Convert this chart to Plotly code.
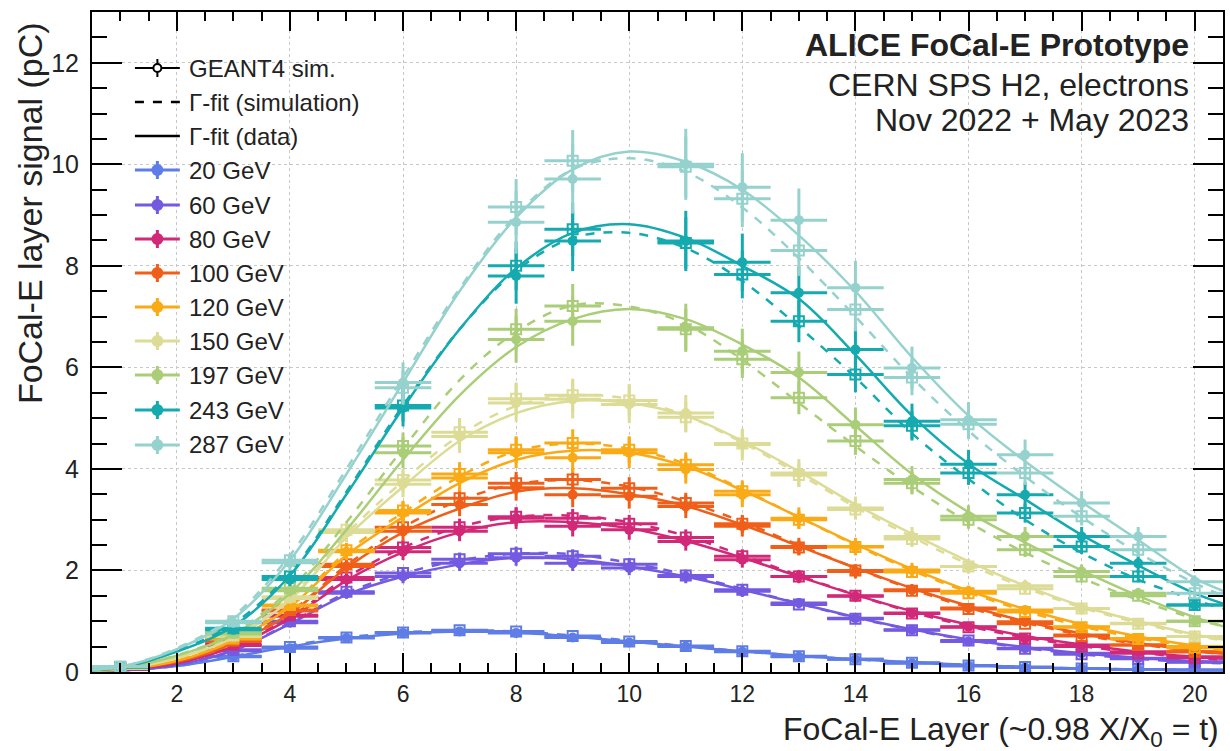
import plotly.graph_objects as go

# ---------------- data ----------------
energies = ["20 GeV", "60 GeV", "80 GeV", "100 GeV", "120 GeV", "150 GeV", "197 GeV", "243 GeV", "287 GeV"]
colors = ["#5f7de6", "#735ae1", "#d22878", "#f05f19", "#faaa14", "#dcdc96", "#aacd78", "#14aaaf", "#96d2cd"]

layers_low = [1, 3, 4, 5, 6, 7, 8, 9, 10, 11, 12, 13, 14, 15, 16, 17, 18, 19, 20]
layers_high = [1, 3, 4, 6, 8, 9, 11, 12, 13, 14, 15, 16, 17, 18, 19, 20]

fit_x = [0.5, 1, 2, 3, 4, 5, 6, 7, 8, 9, 10, 11, 12, 13, 14, 15, 16, 17, 18, 19, 20, 20.5]

data_20 = [0.05, 0.30, 0.47, 0.67, 0.77, 0.80, 0.77, 0.68, 0.58, 0.50, 0.40, 0.30, 0.25, 0.17, 0.12, 0.09, 0.07, 0.05, 0.04]
sim_20 = [0.05, 0.31, 0.49, 0.68, 0.78, 0.82, 0.80, 0.71, 0.60, 0.51, 0.41, 0.31, 0.25, 0.18, 0.13, 0.10, 0.07, 0.05, 0.04]
data_60 = [0.05, 0.42, 0.97, 1.55, 1.88, 2.14, 2.25, 2.14, 2.05, 1.88, 1.59, 1.36, 1.06, 0.83, 0.60, 0.47, 0.37, 0.27, 0.20]
sim_60 = [0.05, 0.44, 1.00, 1.58, 1.95, 2.22, 2.33, 2.28, 2.12, 1.90, 1.62, 1.33, 1.05, 0.82, 0.62, 0.46, 0.35, 0.26, 0.19]
data_80 = [0.06, 0.52, 1.10, 1.82, 2.37, 2.77, 3.03, 2.87, 2.80, 2.57, 2.21, 1.88, 1.49, 1.16, 0.89, 0.66, 0.53, 0.40, 0.30]
sim_80 = [0.06, 0.54, 1.12, 1.86, 2.45, 2.85, 3.06, 3.03, 2.92, 2.65, 2.28, 1.88, 1.50, 1.15, 0.88, 0.66, 0.50, 0.37, 0.28]
data_100 = [0.07, 0.60, 1.20, 2.08, 2.77, 3.30, 3.63, 3.49, 3.46, 3.26, 2.87, 2.47, 1.98, 1.62, 1.26, 0.99, 0.73, 0.53, 0.40]
sim_100 = [0.07, 0.62, 1.22, 2.12, 2.85, 3.42, 3.72, 3.79, 3.62, 3.33, 2.92, 2.45, 2.00, 1.60, 1.24, 0.95, 0.71, 0.53, 0.40]
data_120 = [0.07, 0.65, 1.30, 2.37, 3.13, 3.82, 4.32, 4.22, 4.32, 3.99, 3.49, 3.03, 2.47, 2.01, 1.59, 1.22, 0.89, 0.66, 0.50]
sim_120 = [0.07, 0.66, 1.32, 2.40, 3.18, 3.90, 4.38, 4.51, 4.38, 4.08, 3.56, 3.00, 2.46, 1.97, 1.55, 1.18, 0.88, 0.65, 0.48]
data_150 = [0.08, 0.70, 1.45, 2.75, 3.70, 4.64, 5.30, 5.37, 5.27, 5.10, 4.48, 3.92, 3.23, 2.67, 2.08, 1.70, 1.25, 0.96, 0.70]
sim_150 = [0.08, 0.72, 1.48, 2.80, 3.78, 4.72, 5.38, 5.45, 5.35, 5.02, 4.50, 3.88, 3.20, 2.62, 2.08, 1.64, 1.25, 0.95, 0.70]
data_197 = [0.09, 0.75, 1.60, 4.32, 6.55, 6.91, 6.78, 6.32, 5.90, 4.87, 3.79, 3.07, 2.67, 1.98, 1.55, 1.00]
sim_197 = [0.09, 0.78, 1.65, 4.45, 6.75, 7.21, 6.75, 6.16, 5.40, 4.55, 3.72, 3.00, 2.41, 1.88, 1.50, 1.00]
data_243 = [0.10, 0.83, 1.82, 5.20, 7.80, 8.49, 8.49, 8.07, 7.47, 6.35, 4.94, 4.09, 3.49, 2.67, 2.14, 1.32]
sim_243 = [0.10, 0.86, 1.88, 5.25, 8.00, 8.72, 8.45, 7.83, 6.91, 5.86, 4.85, 3.92, 3.13, 2.47, 1.88, 1.32]
data_287 = [0.11, 0.97, 2.15, 5.70, 8.86, 9.71, 10.00, 9.55, 8.90, 7.57, 5.99, 4.97, 4.28, 3.33, 2.67, 1.78]
sim_287 = [0.11, 1.00, 2.20, 5.60, 9.16, 10.07, 9.95, 9.32, 8.30, 7.14, 5.80, 4.88, 3.92, 3.07, 2.41, 1.55]

fitd_20 = [0.01, 0.03, 0.12, 0.30, 0.50, 0.66, 0.76, 0.80, 0.78, 0.70, 0.60, 0.50, 0.41, 0.32, 0.25, 0.19, 0.14, 0.10, 0.07, 0.05, 0.04, 0.03]
fits_20 = [0.01, 0.03, 0.12, 0.31, 0.52, 0.68, 0.78, 0.82, 0.80, 0.72, 0.62, 0.51, 0.41, 0.32, 0.25, 0.19, 0.14, 0.10, 0.07, 0.05, 0.04, 0.03]
fitd_60 = [0.01, 0.03, 0.14, 0.42, 0.95, 1.52, 1.88, 2.12, 2.25, 2.22, 2.08, 1.88, 1.62, 1.35, 1.08, 0.84, 0.64, 0.49, 0.37, 0.28, 0.21, 0.18]
fits_60 = [0.01, 0.03, 0.14, 0.43, 0.97, 1.56, 1.94, 2.20, 2.33, 2.32, 2.15, 1.92, 1.64, 1.35, 1.07, 0.83, 0.63, 0.47, 0.35, 0.26, 0.19, 0.17]
fitd_80 = [0.02, 0.04, 0.17, 0.50, 1.05, 1.80, 2.36, 2.75, 2.95, 2.95, 2.83, 2.58, 2.25, 1.88, 1.52, 1.20, 0.93, 0.71, 0.54, 0.40, 0.30, 0.26]
fits_80 = [0.02, 0.04, 0.18, 0.52, 1.08, 1.86, 2.45, 2.86, 3.06, 3.08, 2.95, 2.68, 2.30, 1.90, 1.52, 1.18, 0.90, 0.68, 0.51, 0.38, 0.28, 0.24]
fitd_100 = [0.02, 0.05, 0.20, 0.56, 1.15, 2.05, 2.75, 3.22, 3.55, 3.62, 3.50, 3.27, 2.90, 2.48, 2.05, 1.65, 1.30, 1.00, 0.76, 0.57, 0.42, 0.36]
fits_100 = [0.02, 0.05, 0.21, 0.58, 1.18, 2.10, 2.85, 3.38, 3.70, 3.78, 3.65, 3.36, 2.96, 2.50, 2.05, 1.63, 1.27, 0.97, 0.73, 0.55, 0.41, 0.35]
fitd_120 = [0.03, 0.05, 0.22, 0.62, 1.28, 2.30, 3.05, 3.72, 4.18, 4.36, 4.32, 4.05, 3.58, 3.05, 2.52, 2.03, 1.60, 1.24, 0.94, 0.70, 0.52, 0.45]
fits_120 = [0.03, 0.05, 0.23, 0.64, 1.31, 2.36, 3.14, 3.85, 4.35, 4.50, 4.40, 4.10, 3.60, 3.05, 2.50, 2.00, 1.57, 1.20, 0.90, 0.67, 0.50, 0.43]
fitd_150 = [0.03, 0.06, 0.27, 0.67, 1.42, 2.65, 3.65, 4.55, 5.10, 5.34, 5.30, 5.05, 4.55, 3.95, 3.30, 2.72, 2.18, 1.70, 1.30, 1.00, 0.74, 0.64]
fits_150 = [0.03, 0.06, 0.28, 0.70, 1.46, 2.72, 3.76, 4.66, 5.24, 5.45, 5.38, 5.05, 4.52, 3.90, 3.25, 2.66, 2.12, 1.66, 1.27, 0.97, 0.72, 0.62]
fitd_197 = [0.04, 0.08, 0.32, 0.74, 1.55, 2.80, 4.18, 5.45, 6.40, 6.95, 7.15, 6.95, 6.45, 5.80, 4.85, 3.90, 3.15, 2.55, 2.00, 1.50, 1.08, 0.90]
fits_197 = [0.04, 0.08, 0.33, 0.77, 1.62, 2.95, 4.40, 5.75, 6.70, 7.22, 7.20, 6.85, 6.15, 5.30, 4.45, 3.65, 2.95, 2.35, 1.85, 1.42, 1.05, 0.90]
fitd_243 = [0.04, 0.08, 0.40, 0.90, 1.90, 3.50, 5.20, 6.75, 7.95, 8.65, 8.82, 8.55, 8.00, 7.35, 6.25, 5.05, 4.10, 3.40, 2.70, 2.10, 1.55, 1.35]
fits_243 = [0.04, 0.09, 0.42, 0.95, 1.95, 3.55, 5.25, 6.75, 7.90, 8.55, 8.65, 8.35, 7.70, 6.80, 5.80, 4.70, 3.80, 3.00, 2.35, 1.82, 1.42, 1.25]
fitd_287 = [0.05, 0.10, 0.45, 1.05, 2.20, 3.90, 5.70, 7.50, 8.95, 9.90, 10.25, 10.05, 9.50, 8.60, 7.50, 6.20, 5.05, 4.15, 3.35, 2.60, 1.85, 1.60]
fits_287 = [0.05, 0.10, 0.47, 1.10, 2.30, 4.00, 5.80, 7.55, 9.00, 9.90, 10.12, 9.85, 9.15, 8.15, 7.00, 5.80, 4.75, 3.85, 3.05, 2.35, 1.75, 1.50]

x_ticks = [2, 4, 6, 8, 10, 12, 14, 16, 18, 20]
y_ticks = [0, 2, 4, 6, 8, 10, 12]

series = [
    (layers_low, data_20, sim_20, fitd_20, fits_20),
    (layers_low, data_60, sim_60, fitd_60, fits_60),
    (layers_low, data_80, sim_80, fitd_80, fits_80),
    (layers_low, data_100, sim_100, fitd_100, fits_100),
    (layers_low, data_120, sim_120, fitd_120, fits_120),
    (layers_low, data_150, sim_150, fitd_150, fits_150),
    (layers_high, data_197, sim_197, fitd_197, fits_197),
    (layers_high, data_243, sim_243, fitd_243, fits_243),
    (layers_high, data_287, sim_287, fitd_287, fits_287),
]

# ---------------- figure ----------------
W, H = 1230, 751
ML, MR, MT, MB = 92, 5, 12, 79
PW, PH = W - ML - MR, H - MT - MB


def px(x):
    return (x - ML) / PW


def py(y):
    return (H - MB - y) / PH


FONT = "Liberation Sans, Arial, Helvetica, sans-serif"
fig = go.Figure()

for (lay, d, s, fd, fs), col, name in zip(series, colors, energies):
    fig.add_trace(go.Scatter(x=fit_x, y=fs, mode="lines", line=dict(color=col, width=2.5, dash="dash", shape="spline"),
                             showlegend=False, hoverinfo="skip"))
    fig.add_trace(go.Scatter(x=fit_x, y=fd, mode="lines", line=dict(color=col, width=2.5, shape="spline"),
                             showlegend=False, hoverinfo="skip"))
    fig.add_trace(go.Scatter(
        x=lay, y=s, mode="markers", name=name + " sim",
        marker=dict(symbol="square-open", size=10, color=col, line=dict(width=2, color=col)),
        error_y=dict(type="percent", value=6, color=col, thickness=3, width=0),
        error_x=dict(type="constant", value=0.5, color=col, thickness=3, width=0),
        showlegend=False))
    fig.add_trace(go.Scatter(
        x=lay, y=d, mode="markers", name=name,
        marker=dict(symbol="circle", size=10, color=col),
        error_y=dict(type="percent", value=7, color=col, thickness=3, width=0),
        error_x=dict(type="constant", value=0.5, color=col, thickness=3, width=0),
        showlegend=False))

shapes = []
annotations = []

# legend (drawn manually, ROOT style)
leg_rows = [68, 102, 136, 170, 205, 239, 273, 307, 341, 375, 410, 445]
leg_text = ["GEANT4 sim.", "Γ-fit (simulation)", "Γ-fit (data)"] + energies
for i, (yy, txt) in enumerate(zip(leg_rows, leg_text)):
    col = "black" if i < 3 else colors[i - 3]
    if i == 1:
        shapes.append(dict(type="line", xref="paper", yref="paper", x0=px(135), x1=px(180), y0=py(yy), y1=py(yy),
                           line=dict(color=col, width=2.5, dash="dash")))
    elif i == 2:
        shapes.append(dict(type="line", xref="paper", yref="paper", x0=px(135), x1=px(180), y0=py(yy), y1=py(yy),
                           line=dict(color=col, width=2.5)))
    else:
        lw = 2 if i == 0 else 3
        shapes.append(dict(type="line", xref="paper", yref="paper", x0=px(135), x1=px(180), y0=py(yy), y1=py(yy),
                           line=dict(color=col, width=lw)))
        shapes.append(dict(type="line", xref="paper", yref="paper", x0=px(157.5), x1=px(157.5), y0=py(yy - 9),
                           y1=py(yy + 9), line=dict(color=col, width=lw)))
        r = 4 if i == 0 else 5
        shapes.append(dict(type="circle", xref="paper", yref="paper", x0=px(157.5 - r), x1=px(157.5 + r),
                           y0=py(yy - r), y1=py(yy + r), line=dict(color=col, width=2),
                           fillcolor="white" if i == 0 else col))
    annotations.append(dict(x=px(187), y=py(yy), xref="paper", yref="paper", text=txt, showarrow=False,
                            xanchor="left", yanchor="middle", font=dict(family=FONT, size=24, color="#222")))

# top-right label
for yy, txt in [(45, "<b>ALICE FoCal-E Prototype</b>"), (85, "CERN SPS H2, electrons"),
                (120, "Nov 2022 + May 2023")]:
    annotations.append(dict(x=px(1193), y=py(yy), xref="paper", yref="paper", text=txt, showarrow=False,
                            xanchor="right", yanchor="middle", font=dict(family=FONT, size=32, color="#222")))

# axis titles
annotations.append(dict(x=px(30), y=py(213), xref="paper", yref="paper", text="FoCal-E layer signal (pC)",
                        textangle=-90, showarrow=False, xanchor="center", yanchor="middle",
                        font=dict(family=FONT, size=34, color="#222")))
annotations.append(dict(x=px(1223), y=py(731), xref="paper", yref="paper",
                        text="FoCal-E Layer (~0.98 X/X<sub>0</sub> = t)", showarrow=False,
                        xanchor="right", yanchor="middle", font=dict(family=FONT, size=32, color="#222")))

fig.update_layout(
    width=W, height=H,
    margin=dict(l=ML, r=MR, t=MT, b=MB),
    plot_bgcolor="white", paper_bgcolor="white",
    showlegend=False,
    shapes=shapes, annotations=annotations,
    font=dict(family=FONT, color="#222"),
)
fig.update_xaxes(
    range=[0.5, 20.5], tickmode="array", tickvals=x_ticks, ticktext=[str(v) for v in x_ticks],
    ticks="inside", ticklen=19, tickwidth=2, tickcolor="black",
    minor=dict(dtick=0.5, tick0=0, ticks="inside", ticklen=9, tickwidth=1.5, tickcolor="black", showgrid=False),
    showline=True, linecolor="black", linewidth=2, mirror="allticks",
    showgrid=True, gridcolor="#c8c8c8", griddash="dot", gridwidth=1,
    zeroline=False, tickfont=dict(family=FONT, size=23, color="#222"),
)
fig.update_yaxes(
    range=[0, 13], tickmode="array", tickvals=y_ticks, ticktext=[str(v) for v in y_ticks],
    ticks="inside", ticklen=30, tickwidth=2, tickcolor="black",
    minor=dict(dtick=0.5, tick0=0, ticks="inside", ticklen=15, tickwidth=1.5, tickcolor="black", showgrid=False),
    showline=True, linecolor="black", linewidth=2, mirror="allticks",
    showgrid=True, gridcolor="#c8c8c8", griddash="dot", gridwidth=1,
    zeroline=False, tickfont=dict(family=FONT, size=25, color="#222"), ticklabelstandoff=6,
)

fig.write_html("out.html")
